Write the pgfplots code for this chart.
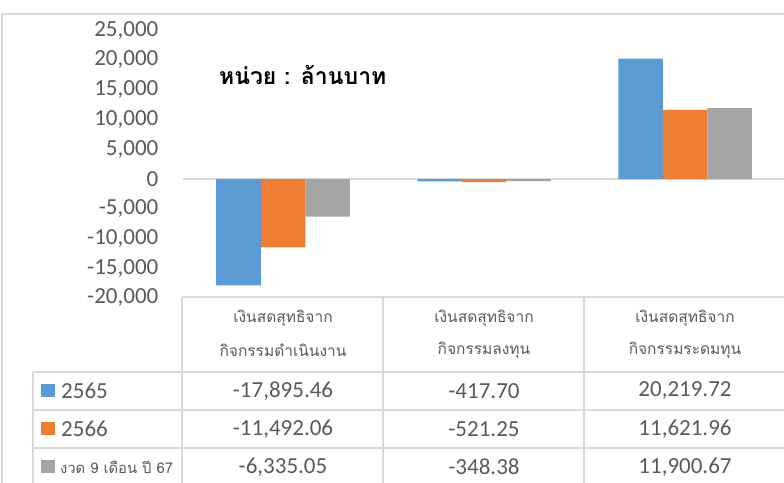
\documentclass[border=0pt]{standalone}
\usepackage{pgfplots}
\pgfplotsset{compat=1.18}
\usepackage{fontspec}
\setmainfont{Carlito}
\newfontfamily\thaifont[Script=Thai]{Loma}
\definecolor{cblue}{HTML}{5B9BD5}
\definecolor{corange}{HTML}{ED7D31}
\definecolor{cgray}{HTML}{A5A5A5}
\definecolor{ctext}{HTML}{595959}
\definecolor{cline}{HTML}{D9D9D9}
\newcommand{\numfont}{\fontsize{23}{24}\selectfont}
\newcommand{\hdrfont}{\thaifont\fontsize{15.5}{17}\selectfont}
\begin{document}
\begin{tikzpicture}[x=1pt,y=1pt]
\path[use as bounding box] (0,0) rectangle (784,-482);
% outer border
\draw[cline, line width=1.4pt] (2,-490) -- (2,-14) -- (790,-14);
\begin{axis}[
  at={(182.5pt,-298pt)}, anchor=south west,
  scale only axis, width=603pt, height=267.75pt,
  xmin=-0.5, xmax=2.5, ymin=-20000, ymax=25000,
  axis line style={draw=none}, tick style={draw=none},
  xtick=\empty,
  scaled y ticks=false,
  ytick={-20000,-15000,-10000,-5000,0,5000,10000,15000,20000,25000},
  yticklabels={{-20,000},{-15,000},{-10,000},{-5,000},{0},{5,000},{10,000},{15,000},{20,000},{25,000}},
  yticklabel style={font=\numfont, text=ctext, anchor=east, inner sep=0pt, xshift=-24pt},
  ybar, bar width=0.2214,
  clip=false,
]
\draw[cline, line width=1.4pt] (axis cs:-0.5,0) -- (axis cs:2.5,0);
\addplot[fill=cblue, draw=none, bar shift=-0.2214] coordinates {(0,-17895.46) (1,-417.70) (2,20219.72)};
\addplot[fill=corange, draw=none, bar shift=0] coordinates {(0,-11492.06) (1,-521.25) (2,11621.96)};
\addplot[fill=cgray, draw=none, bar shift=0.2214] coordinates {(0,-6335.05) (1,-348.38) (2,11900.67)};
\end{axis}
% title
\node[anchor=west, inner sep=0pt] at (219,-75) {\thaifont\bfseries\fontsize{23}{25}\selectfont หน่วย : ล้านบาท};
% data table lines
\begin{scope}[cline, line width=1.4pt]
\draw (182,-297) -- (790,-297);
\draw (33,-372) -- (790,-372);
\draw (33,-410) -- (790,-410);
\draw (33,-448) -- (790,-448);
\draw (33,-372) -- (33,-490);
\draw (182,-297) -- (182,-490);
\draw (383,-297) -- (383,-490);
\draw (584,-297) -- (584,-490);
\draw (785,-297) -- (785,-490);
\end{scope}
% header labels
\foreach \cx/\la/\lb in {283/เงินสดสุทธิจาก/กิจกรรมดำเนินงาน, 484/เงินสดสุทธิจาก/กิจกรรมลงทุน, 685/เงินสดสุทธิจาก/กิจกรรมระดมทุน}{
  \node[text=ctext, inner sep=0pt] at (\cx,-318) {\hdrfont \la};
  \node[text=ctext, inner sep=0pt] at (\cx,-350) {\hdrfont \lb};
}
% legend keys and row labels
\fill[cblue] (41,-384) rectangle (55,-397);
\fill[corange] (41,-422) rectangle (55,-435);
\fill[cgray] (41,-460) rectangle (55,-473);
\node[anchor=west, text=ctext, inner sep=0pt] at (61,-391) {\numfont 2565};
\node[anchor=west, text=ctext, inner sep=0pt] at (61,-429) {\numfont 2566};
\node[anchor=west, text=ctext, inner sep=0pt] at (60,-467) {\thaifont\fontsize{14.8}{16}\selectfont งวด 9 เดือน ปี 67};
% values
\foreach \cx/\va/\vb/\vc in {283/{-17,895.46}/{-11,492.06}/{-6,335.05}, 484/{-417.70}/{-521.25}/{-348.38}, 685/{20,219.72}/{11,621.96}/{11,900.67}}{
  \node[text=ctext, inner sep=0pt] at (\cx,-391) {\numfont \va};
  \node[text=ctext, inner sep=0pt] at (\cx,-429) {\numfont \vb};
  \node[text=ctext, inner sep=0pt] at (\cx,-467) {\numfont \vc};
}
\end{tikzpicture}
\end{document}
